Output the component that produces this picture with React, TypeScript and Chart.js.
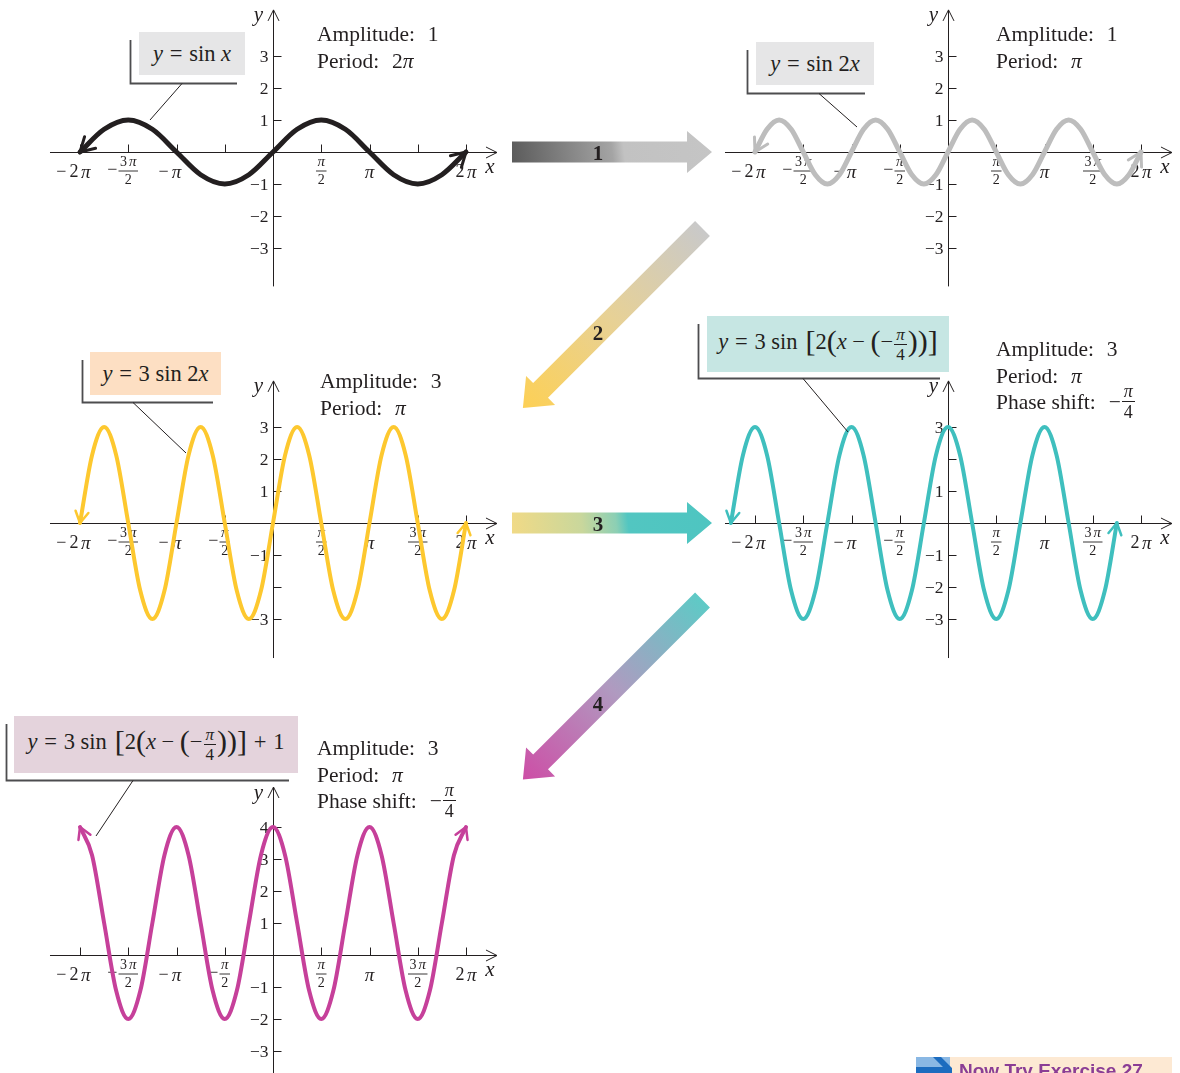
import React, { useEffect, useRef } from 'react';
import { Chart, registerables } from 'chart.js';

Chart.register(...registerables);

// ---------------- data (x values are multiples of π) ----------------
const X_STEP_QUARTER = [-2, -1.75, -1.5, -1.25, -1, -0.75, -0.5, -0.25, 0, 0.25, 0.5, 0.75, 1, 1.25, 1.5, 1.75, 2];
const Y_SIN_X = [0, 0.71, 1, 0.71, 0, -0.71, -1, -0.71, 0, 0.71, 1, 0.71, 0, -0.71, -1, -0.71, 0];

const X_STEP_EIGHTH = [
  -2, -1.875, -1.75, -1.625, -1.5, -1.375, -1.25, -1.125,
  -1, -0.875, -0.75, -0.625, -0.5, -0.375, -0.25, -0.125,
  0, 0.125, 0.25, 0.375, 0.5, 0.625, 0.75, 0.875,
  1, 1.125, 1.25, 1.375, 1.5, 1.625, 1.75, 1.875, 2,
];
const Y_SIN_2X = [
  0, 0.71, 1, 0.71, 0, -0.71, -1, -0.71,
  0, 0.71, 1, 0.71, 0, -0.71, -1, -0.71,
  0, 0.71, 1, 0.71, 0, -0.71, -1, -0.71,
  0, 0.71, 1, 0.71, 0, -0.71, -1, -0.71, 0,
];
const Y_3SIN_2X = [
  0, 2.12, 3, 2.12, 0, -2.12, -3, -2.12,
  0, 2.12, 3, 2.12, 0, -2.12, -3, -2.12,
  0, 2.12, 3, 2.12, 0, -2.12, -3, -2.12,
  0, 2.12, 3, 2.12, 0, -2.12, -3, -2.12, 0,
];
const X_SHIFTED = [
  -2.25, -2.125, -2, -1.875, -1.75, -1.625, -1.5, -1.375,
  -1.25, -1.125, -1, -0.875, -0.75, -0.625, -0.5, -0.375,
  -0.25, -0.125, 0, 0.125, 0.25, 0.375, 0.5, 0.625,
  0.75, 0.875, 1, 1.125, 1.25, 1.375, 1.5, 1.625, 1.75,
];
const Y_3SIN_SHIFTED = [
  0, 2.12, 3, 2.12, 0, -2.12, -3, -2.12,
  0, 2.12, 3, 2.12, 0, -2.12, -3, -2.12,
  0, 2.12, 3, 2.12, 0, -2.12, -3, -2.12,
  0, 2.12, 3, 2.12, 0, -2.12, -3, -2.12, 0,
];
const Y_3SIN_SHIFTED_UP1 = [
  4, 3.12, 1, -1.12, -2, -1.12, 1, 3.12,
  4, 3.12, 1, -1.12, -2, -1.12, 1, 3.12,
  4, 3.12, 1, -1.12, -2, -1.12, 1, 3.12,
  4, 3.12, 1, -1.12, -2, -1.12, 1, 3.12, 4,
];

// tick values / labels
const X_TICK_VALUES = [-2, -1.5, -1, -0.5, 0.5, 1, 1.5, 2];
type XLabel = { v: number; neg?: boolean; top: string; bot?: string };
const X_TICK_LABELS: XLabel[] = [
  { v: -2, neg: true, top: '2π' },
  { v: -1.5, neg: true, top: '3π', bot: '2' },
  { v: -1, neg: true, top: 'π' },
  { v: -0.5, neg: true, top: 'π', bot: '2' },
  { v: 0.5, top: 'π', bot: '2' },
  { v: 1, top: 'π' },
  { v: 1.5, top: '3π', bot: '2' },
  { v: 2, top: '2π' },
];
const X_LABELS_P1 = [-2, -1.5, -1, 0.5, 1, 2];
const X_LABELS_FULL = [-2, -1.5, -1, -0.5, 0.5, 1, 1.5, 2];
const Y_TICKS_3 = [-3, -2, -1, 1, 2, 3];
const Y_TICKS_4 = [-3, -2, -1, 1, 2, 3, 4];
const Y_LABELS_P1 = [3, 2, 1, -1, -2, -3];
const Y_LABELS_P2 = [3, 2, 1, -1, -2, -3];
const Y_LABELS_P3 = [3, 2, 1, -1, -3];
const Y_LABELS_P4 = [3, 1, -1, -2, -3];
const Y_LABELS_P5 = [4, 3, 2, 1, -1, -2, -3];
const X_AXIS_EXTENT = [-2.311, 2.321];

// ---------------- layout / style ----------------
const INK = '#231f20';
const SERIF = '"Liberation Serif", "Times New Roman", serif';
const SX = 96.5; // px per π
const SY = 32; // px per unit

type PanelSpec = {
  id: string; left: number; top: number; w: number; h: number; ox: number; oy: number;
  xs: number[]; ys: number[]; color: string; lw: number; head: number; headW: number;
  xLabels: number[]; yTicks: number[]; yLabels: number[]; yAxis: number[];
};

const PANELS: PanelSpec[] = [
  { id: 'p1', left: 40, top: 0, w: 470, h: 295, ox: 273, oy: 152, xs: X_STEP_QUARTER, ys: Y_SIN_X, color: '#231f20', lw: 5, head: 16, headW: 3, xLabels: X_LABELS_P1, yTicks: Y_TICKS_3, yLabels: Y_LABELS_P1, yAxis: [-4.2, 4.44] },
  { id: 'p2', left: 715, top: 0, w: 465, h: 295, ox: 948, oy: 152, xs: X_STEP_EIGHTH, ys: Y_SIN_2X, color: '#bdbdbd', lw: 5, head: 15, headW: 3, xLabels: X_LABELS_FULL, yTicks: Y_TICKS_3, yLabels: Y_LABELS_P2, yAxis: [-4.2, 4.44] },
  { id: 'p3', left: 40, top: 370, w: 470, h: 295, ox: 273, oy: 523, xs: X_STEP_EIGHTH, ys: Y_3SIN_2X, color: '#fdc82f', lw: 4, head: 13, headW: 2.5, xLabels: X_LABELS_FULL, yTicks: Y_TICKS_3, yLabels: Y_LABELS_P3, yAxis: [-4.22, 4.44] },
  { id: 'p4', left: 715, top: 370, w: 465, h: 295, ox: 948, oy: 523, xs: X_SHIFTED, ys: Y_3SIN_SHIFTED, color: '#3fbfbe', lw: 4, head: 13, headW: 2.5, xLabels: X_LABELS_FULL, yTicks: Y_TICKS_3, yLabels: Y_LABELS_P4, yAxis: [-4.22, 4.44] },
  { id: 'p5', left: 40, top: 775, w: 470, h: 298, ox: 273, oy: 955, xs: X_STEP_EIGHTH, ys: Y_3SIN_SHIFTED_UP1, color: '#c6409a', lw: 4, head: 13, headW: 2.5, xLabels: X_LABELS_FULL, yTicks: Y_TICKS_4, yLabels: Y_LABELS_P5, yAxis: [-3.9, 5.25] },
];

function drawMath(ctx: CanvasRenderingContext2D, s: string, cx: number, cy: number, size: number) {
  const parts = [...s];
  const fonts = parts.map((ch) => (ch === 'π' ? `italic ${size + 1}px ${SERIF}` : `${size}px ${SERIF}`));
  const gap = size * 0.14;
  const widths = parts.map((ch, i) => {
    ctx.font = fonts[i];
    return ctx.measureText(ch).width;
  });
  const total = widths.reduce((a, b) => a + b, 0) + gap * (parts.length - 1);
  let x = cx - total / 2;
  const left = x;
  ctx.textAlign = 'left';
  ctx.textBaseline = 'middle';
  parts.forEach((ch, i) => {
    ctx.font = fonts[i];
    ctx.fillText(ch, x, cy);
    x += widths[i] + gap;
  });
  return { left, right: left + total, width: total };
}

function makePlugin(p: PanelSpec) {
  return {
    id: 'axes_' + p.id,
    beforeDatasetsDraw(chart: any) {
      const ctx: CanvasRenderingContext2D = chart.ctx;
      const X = (v: number) => chart.scales.x.getPixelForValue(v);
      const Y = (v: number) => chart.scales.y.getPixelForValue(v);
      const x0 = Math.round(X(0)) + 0.5;
      const y0 = Math.round(Y(0)) + 0.5;
      ctx.save();
      ctx.strokeStyle = INK;
      ctx.fillStyle = INK;
      ctx.lineWidth = 1;
      ctx.lineCap = 'butt';
      // x axis
      const xl = X(X_AXIS_EXTENT[0]);
      const xr = X(X_AXIS_EXTENT[1]);
      ctx.beginPath();
      ctx.moveTo(xl, y0); ctx.lineTo(xr, y0);
      ctx.moveTo(xr - 11, y0 - 5.5); ctx.lineTo(xr, y0); ctx.lineTo(xr - 11, y0 + 5.5);
      ctx.stroke();
      // y axis
      const yt = Y(p.yAxis[1]);
      const yb = Y(p.yAxis[0]);
      ctx.beginPath();
      ctx.moveTo(x0, yb); ctx.lineTo(x0, yt);
      ctx.moveTo(x0 - 5.5, yt + 11); ctx.lineTo(x0, yt); ctx.lineTo(x0 + 5.5, yt + 11);
      ctx.stroke();
      // ticks
      ctx.beginPath();
      X_TICK_VALUES.forEach((t) => {
        const px = Math.round(X(t)) + 0.5;
        ctx.moveTo(px, y0); ctx.lineTo(px, y0 - 8);
      });
      p.yTicks.forEach((t) => {
        const py = Math.round(Y(t)) + 0.5;
        ctx.moveTo(x0, py); ctx.lineTo(x0 + 8, py);
      });
      ctx.stroke();
      // x tick labels
      X_TICK_LABELS.filter((l) => p.xLabels.includes(l.v)).forEach((l) => {
        const cx = X(l.v);
        if (l.bot) {
          const r = drawMath(ctx, l.top, cx, y0 + 10, 14);
          ctx.font = `14px ${SERIF}`;
          ctx.textAlign = 'center';
          ctx.fillText(l.bot, cx, y0 + 28);
          ctx.beginPath();
          ctx.lineWidth = 0.9;
          ctx.moveTo(cx - r.width / 2 - 1.5, y0 + 18.5);
          ctx.lineTo(cx + r.width / 2 + 1.5, y0 + 18.5);
          ctx.stroke();
          ctx.lineWidth = 1;
          if (l.neg) {
            ctx.font = `18px ${SERIF}`;
            ctx.textAlign = 'right';
            ctx.fillText('−', cx - r.width / 2 - 2.5, y0 + 18);
          }
        } else {
          const r = drawMath(ctx, l.top, cx, y0 + 20, 18);
          if (l.neg) {
            ctx.font = `18px ${SERIF}`;
            ctx.textAlign = 'right';
            ctx.fillText('−', r.left - 3, y0 + 20);
          }
        }
      });
      // y tick labels
      ctx.font = `17.5px ${SERIF}`;
      ctx.textAlign = 'right';
      ctx.textBaseline = 'middle';
      p.yLabels.forEach((v) => {
        const s = v < 0 ? '−' + Math.abs(v) : String(v);
        ctx.fillText(s, x0 - 5, Y(v) + 1);
      });
      // axis names
      ctx.font = `italic 21px ${SERIF}`;
      ctx.textAlign = 'center';
      ctx.fillText('x', xr - 7, y0 + 15);
      ctx.fillText('y', x0 - 15, yt + 6);
      ctx.restore();
    },
    afterDatasetsDraw(chart: any) {
      const ctx: CanvasRenderingContext2D = chart.ctx;
      const pts = chart.getDatasetMeta(0).data as any[];
      const n = pts.length;
      const ends = [
        { tip: pts[0], from: pts[0].cp2x !== undefined ? { x: pts[0].cp2x, y: pts[0].cp2y } : pts[1] },
        { tip: pts[n - 1], from: pts[n - 1].cp1x !== undefined ? { x: pts[n - 1].cp1x, y: pts[n - 1].cp1y } : pts[n - 2] },
      ];
      ctx.save();
      ctx.strokeStyle = p.color;
      ctx.lineWidth = p.headW;
      ctx.lineCap = 'round';
      ctx.lineJoin = 'round';
      ends.forEach(({ tip, from }) => {
        let dx = tip.x - from.x;
        let dy = tip.y - from.y;
        const len = Math.hypot(dx, dy) || 1;
        dx /= len; dy /= len;
        const a = (30 * Math.PI) / 180;
        const rot = (ang: number) => ({ x: dx * Math.cos(ang) - dy * Math.sin(ang), y: dx * Math.sin(ang) + dy * Math.cos(ang) });
        const r1 = rot(a), r2 = rot(-a);
        ctx.beginPath();
        ctx.moveTo(tip.x - r1.x * p.head, tip.y - r1.y * p.head);
        ctx.lineTo(tip.x, tip.y);
        ctx.lineTo(tip.x - r2.x * p.head, tip.y - r2.y * p.head);
        ctx.stroke();
      });
      ctx.restore();
    },
  };
}

function PanelChart({ spec }: { spec: PanelSpec }) {
  const ref = useRef<HTMLCanvasElement>(null);
  useEffect(() => {
    if (!ref.current) return;
    const p = spec;
    const chart = new Chart(ref.current, {
      type: 'line',
      data: {
        datasets: [
          {
            data: p.xs.map((x, i) => ({ x, y: p.ys[i] })),
            borderColor: p.color,
            borderWidth: p.lw,
            pointRadius: 0,
            fill: false,
            cubicInterpolationMode: 'monotone',
            borderCapStyle: 'round',
            borderJoinStyle: 'round',
          } as any,
        ],
      },
      options: {
        animation: false,
        responsive: false,
        devicePixelRatio: 1,
        events: [],
        layout: { padding: 0 },
        plugins: { legend: { display: false }, tooltip: { enabled: false } },
        scales: {
          x: { type: 'linear', display: false, min: (p.left - p.ox) / SX, max: (p.left + p.w - p.ox) / SX },
          y: { type: 'linear', display: false, min: (p.oy - p.top - p.h) / SY, max: (p.oy - p.top) / SY },
        },
      } as any,
      plugins: [makePlugin(p)],
    });
    return () => chart.destroy();
  }, [spec]);
  return (
    <canvas
      ref={ref}
      width={spec.w}
      height={spec.h}
      style={{ position: 'absolute', left: spec.left, top: spec.top, width: spec.w, height: spec.h }}
    />
  );
}

function Frac({ n, d, size, lift, rel }: { n: React.ReactNode; d: React.ReactNode; size: number; lift: number; rel?: boolean }) {
  const pos: React.CSSProperties = rel
    ? { verticalAlign: 'baseline', position: 'relative', top: -lift }
    : { verticalAlign: lift };
  return (
    <span style={{ display: 'inline-flex', flexDirection: 'column', alignItems: 'center', fontSize: size, lineHeight: 1, margin: '0 1px', ...pos }}>
      <span style={{ borderBottom: `1px solid ${INK}`, padding: '0 2px 1px', lineHeight: 1 }}>{n}</span>
      <span style={{ lineHeight: 1, paddingTop: 1 }}>{d}</span>
    </span>
  );
}

const Big = ({ c }: { c: string }) => (
  <span style={{ fontSize: 30, lineHeight: 0, verticalAlign: -2, fontWeight: 300 }}>{c}</span>
);
const Eq = () => <span style={{ margin: '0 0.3em' }}>=</span>;
const Sp = () => <span style={{ marginLeft: '0.35em' }} />;

function Box({ left, top, w, h, bg, children }: any) {
  return (
    <div style={{ position: 'absolute', left, top, width: w, height: h, background: bg, display: 'flex', alignItems: 'center', justifyContent: 'center', font: `22.5px ${SERIF}`, color: INK, whiteSpace: 'pre' }}>
      <span>{children}</span>
    </div>
  );
}

function Info({ left, top, lines }: { left: number; top: number; lines: React.ReactNode[] }) {
  return (
    <div style={{ position: 'absolute', left, top, font: `21.5px ${SERIF}`, lineHeight: '26.5px', color: INK, whiteSpace: 'nowrap' }}>
      {lines.map((l, i) => (
        <div key={i} style={{ height: 26.5 }}>{l}</div>
      ))}
    </div>
  );
}

const PI_I = <i>π</i>;
const PhaseFrac = () => (
  <>
    −<Frac n={PI_I} d="4" size={18} lift={12} rel />
  </>
);

function ArrowH({ y, id, stops, label }: { y: number; id: string; stops: [number, string][]; label: string }) {
  return (
    <g>
      <defs>
        <linearGradient id={id} gradientUnits="userSpaceOnUse" x1="512" y1={y + 12} x2="712" y2={y - 12}>
          {stops.map(([o, c], i) => (
            <stop key={i} offset={o} stopColor={c} />
          ))}
        </linearGradient>
      </defs>
      <polygon
        points={`512,${y - 10.5} 687,${y - 10.5} 687,${y - 21} 712,${y} 687,${y + 21} 687,${y + 10.5} 512,${y + 10.5}`}
        fill={`url(#${id})`}
      />
      <text x="598" y={y + 1} textAnchor="middle" dominantBaseline="central" fontFamily={SERIF} fontWeight="bold" fontSize="21" fill={INK}>
        {label}
      </text>
    </g>
  );
}

function ArrowD({ x, y, id, stops, label, ly }: { x: number; y: number; id: string; stops: [number, string][]; label: string; ly: number }) {
  return (
    <g>
      <defs>
        <linearGradient id={id} x1="0" y1="0" x2="1" y2="0">
          {stops.map(([o, c], i) => (
            <stop key={i} offset={o} stopColor={c} />
          ))}
        </linearGradient>
      </defs>
      <g transform={`translate(${x},${y}) rotate(135)`}>
        <polygon points="0,-10.5 229,-10.5 229,-20.5 254,0 229,20.5 229,10.5 0,10.5" fill={`url(#${id})`} />
      </g>
      <text x="598" y={ly} textAnchor="middle" dominantBaseline="central" fontFamily={SERIF} fontWeight="bold" fontSize="21" fill={INK}>
        {label}
      </text>
    </g>
  );
}

const FRAMES = [
  { vx: 130.5, vy1: 40, vy2: 83.5, hx2: 237, leader: [182, 83.5, 150, 120] },
  { vx: 747.5, vy1: 50, vy2: 93.5, hx2: 865, leader: [819, 93.5, 857, 127] },
  { vx: 82.5, vy1: 360, vy2: 402.5, hx2: 213, leader: [133, 402.5, 186, 453] },
  { vx: 698.5, vy1: 324, vy2: 378.5, hx2: 940, leader: [803, 378.5, 848, 432] },
  { vx: 6.5, vy1: 724, vy2: 780.5, hx2: 289, leader: [133, 780.5, 96, 836] },
];

export default function App() {
  return (
    <div style={{ position: 'absolute', left: 0, top: 0, width: 1180, height: 1073, overflow: 'hidden', background: '#fff', fontFamily: SERIF }}>
      {PANELS.map((p) => (
        <PanelChart key={p.id} spec={p} />
      ))}

      <svg width={1180} height={1073} style={{ position: 'absolute', left: 0, top: 0, pointerEvents: 'none' }}>
        {FRAMES.map((f, i) => (
          <g key={i}>
            <polyline points={`${f.vx},${f.vy1} ${f.vx},${f.vy2} ${f.hx2},${f.vy2}`} fill="none" stroke="#4d4d4f" strokeWidth={1.8} />
            <line x1={f.leader[0]} y1={f.leader[1]} x2={f.leader[2]} y2={f.leader[3]} stroke={INK} strokeWidth={1} />
          </g>
        ))}
        <ArrowH y={152} id="ga1" label="1" stops={[[0, '#5b5b5b'], [0.5, '#a4a4a4'], [0.56, '#c2c2c2'], [1, '#c5c5c5']]} />
        <ArrowH y={523} id="ga3" label="3" stops={[[0, '#f1da86'], [0.35, '#c9d79c'], [0.52, '#8ccfb4'], [0.58, '#52c6c1'], [1, '#4ec5c1']]} />
        <ArrowD x={702.5} y={228.5} id="ga2" label="2" ly={333} stops={[[0, '#c9c9c9'], [0.5, '#e7d196'], [1, '#fdd055']]} />
        <ArrowD x={702.5} y={600} id="ga4" label="4" ly={704} stops={[[0, '#5ecac6'], [0.5, '#b09ac0'], [1, '#cd4ea6']]} />
        {/* Now Try Exercise icon */}
        <rect x={916} y={1057} width={256} height={16} fill="#fde9d3" />
        <rect x={916} y={1057} width={34} height={16} fill="#8ab8e4" />
        <polygon points="933,1057 941,1057 952,1068 952,1073 916,1073 916,1067 943,1067" fill="#1c6cbf" />
      </svg>

      <div style={{ position: 'absolute', left: 959, top: 1061, font: `bold 19px "Liberation Sans", Arial, sans-serif`, lineHeight: '20px', color: '#8b3d95', whiteSpace: 'nowrap' }}>
        Now Try Exercise 27
      </div>

      {/* equation boxes */}
      <Box left={139} top={32} w={106} h={43} bg="#e6e6e7">
        <i>y</i><Eq />sin <i>x</i>
      </Box>
      <Box left={756} top={42} w={118} h={43} bg="#e6e6e7">
        <i>y</i><Eq />sin 2<i>x</i>
      </Box>
      <Box left={90} top={352} w={131} h={43} bg="#fddfc3">
        <i>y</i><Eq />3 sin 2<i>x</i>
      </Box>
      <Box left={707} top={316} w={242} h={56} bg="#c6e6e3">
        <i>y</i><Eq />3 sin<Sp /><Big c="[" />2<Big c="(" /><i>x</i><span style={{ margin: '0 0.25em' }}>−</span><Big c="(" />−<Frac n={PI_I} d="4" size={17} lift={9} /><Big c=")" /><Big c=")" /><Big c="]" />
      </Box>
      <Box left={14} top={716} w={284} h={57} bg="#e4d3dc">
        <i>y</i><Eq />3 sin<Sp /><Big c="[" />2<Big c="(" /><i>x</i><span style={{ margin: '0 0.25em' }}>−</span><Big c="(" />−<Frac n={PI_I} d="4" size={17} lift={9} /><Big c=")" /><Big c=")" /><Big c="]" /><span style={{ margin: '0 0.3em' }}>+</span>1
      </Box>

      {/* info texts */}
      <Info left={317} top={21} lines={[<>Amplitude:<Sp /> 1</>, <>Period:<Sp /> 2<i>π</i></>]} />
      <Info left={996} top={21} lines={[<>Amplitude:<Sp /> 1</>, <>Period:<Sp /> <i>π</i></>]} />
      <Info left={320} top={368} lines={[<>Amplitude:<Sp /> 3</>, <>Period:<Sp /> <i>π</i></>]} />
      <Info left={996} top={336} lines={[<>Amplitude:<Sp /> 3</>, <>Period:<Sp /> <i>π</i></>, <>Phase shift:<Sp /> <PhaseFrac /></>]} />
      <Info left={317} top={735} lines={[<>Amplitude:<Sp /> 3</>, <>Period:<Sp /> <i>π</i></>, <>Phase shift:<Sp /> <PhaseFrac /></>]} />
    </div>
  );
}
